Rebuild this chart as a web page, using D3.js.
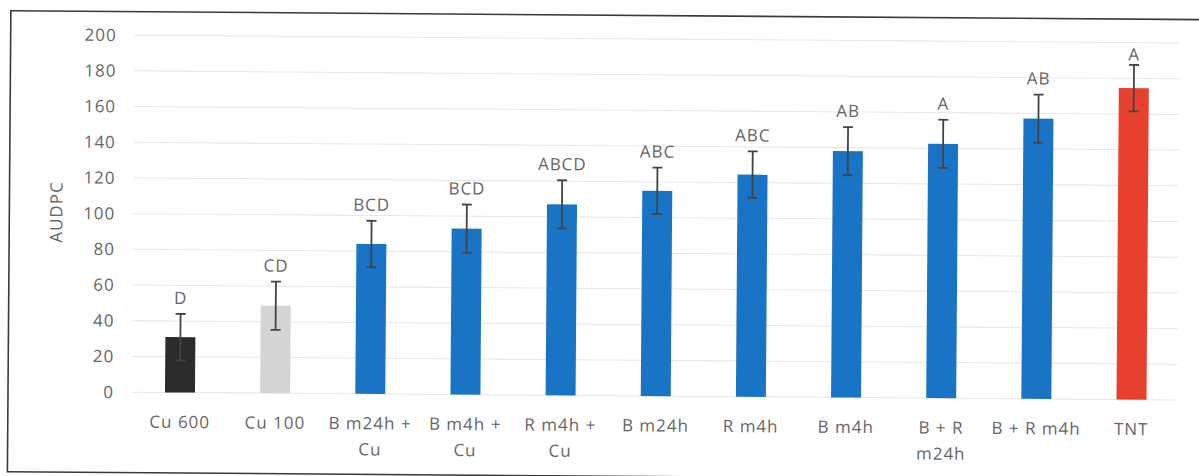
<!DOCTYPE html>
<html>
<head>
<meta charset="utf-8">
<script src="https://cdn.jsdelivr.net/npm/d3@7"></script>
<style>
  html, body { margin: 0; padding: 0; background: #fff; }
  svg { display: block; }
  text { font-family: "Open Sans", "DejaVu Sans", sans-serif; fill: #666; }
</style>
</head>
<body>
<svg id="chart" width="1199" height="476"></svg>
<script>
// Treatments (line breaks follow the wrapped axis labels)
const categories = [
  "Cu 600", "Cu 100", "B m24h +\nCu", "B m4h +\nCu", "R m4h +\nCu",
  "B m24h", "R m4h", "B m4h", "B + R\nm24h", "B + R m4h", "TNT"
];
// Mean AUDPC per treatment
const audpc = [31, 49, 84, 93, 107, 115, 124.5, 138, 142.5, 157, 174.5];
// Standard error of each mean
const stdErr = [13, 13.5, 13, 13.5, 13.5, 13, 13, 13.5, 13.5, 13.5, 13];
// Letters of the mean separation test
const groups = ["D", "CD", "BCD", "BCD", "ABCD", "ABC", "ABC", "AB", "A", "AB", "A"];
// Bar fill per treatment
const barFill = ["#2b2b2b", "#d4d4d4", "#1a74c6", "#1a74c6", "#1a74c6", "#1a74c6",
                 "#1a74c6", "#1a74c6", "#1a74c6", "#1a74c6", "#e8402f"];
// Y axis ticks
const yTicks = [0, 20, 40, 60, 80, 100, 120, 140, 160, 180, 200];

const svg = d3.select("#chart");
svg.append("rect").attr("width", 1199).attr("height", 476).attr("fill", "#fff");

// the printed figure sits slightly askew on the page
const g = svg.append("g").attr("transform", "rotate(0.43, 180, 392.5)");

// outer frame of the figure (its right side runs past the page edge)
g.append("rect")
  .attr("x", 8).attr("y", 12).attr("width", 1260).attr("height", 461)
  .attr("fill", "none").attr("stroke", "#3a3a3a").attr("stroke-width", 1.6);

const x = d3.scaleBand()
  .domain(categories)
  .range([132.4, 1179.1])
  .paddingInner(0.685)
  .paddingOuter(0.3425);

const y = d3.scaleLinear().domain([0, 200]).range([392.5, 35.5]);

// horizontal gridlines
g.append("g").selectAll("line")
  .data(yTicks)
  .join("line")
  .attr("x1", 132).attr("x2", 1177)
  .attr("y1", d => y(d)).attr("y2", d => y(d))
  .attr("stroke", "#e6e6e6").attr("stroke-width", 1);

// y axis labels
const yAxis = g.append("g")
  .attr("transform", "translate(118,0)")
  .call(d3.axisLeft(y).tickValues(yTicks).tickSize(0).tickPadding(4));
yAxis.select(".domain").remove();
yAxis.selectAll("text")
  .attr("font-size", 17).attr("letter-spacing", 1)
  .attr("font-family", "Open Sans").attr("fill", "#666");

g.append("text")
  .attr("transform", "translate(61,213) rotate(-90)")
  .attr("text-anchor", "middle")
  .attr("font-size", 17).attr("letter-spacing", 1)
  .text("AUDPC");

const data = categories.map((c, i) => ({
  cat: c, v: audpc[i], e: stdErr[i], grp: groups[i], fill: barFill[i]
}));

// bars
g.append("g").selectAll("rect")
  .data(data)
  .join("rect")
  .attr("x", d => x(d.cat))
  .attr("width", x.bandwidth())
  .attr("y", d => y(d.v))
  .attr("height", d => y(0) - y(d.v))
  .attr("fill", d => d.fill);

// error bars
const eb = g.append("g").attr("stroke", "#444").attr("stroke-width", 1.8);
const cx = d => x(d.cat) + x.bandwidth() / 2;
eb.selectAll(".stem").data(data).join("line")
  .attr("x1", cx).attr("x2", cx)
  .attr("y1", d => y(d.v + d.e)).attr("y2", d => y(d.v - d.e));
eb.selectAll(".capTop").data(data).join("line")
  .attr("x1", d => cx(d) - 5).attr("x2", d => cx(d) + 5)
  .attr("y1", d => y(d.v + d.e)).attr("y2", d => y(d.v + d.e));
eb.selectAll(".capBot").data(data).join("line")
  .attr("x1", d => cx(d) - 5).attr("x2", d => cx(d) + 5)
  .attr("y1", d => y(d.v - d.e)).attr("y2", d => y(d.v - d.e));

// group letters above error bars
g.append("g").selectAll("text")
  .data(data)
  .join("text")
  .attr("x", cx)
  .attr("y", d => Math.max(y(d.v + d.e) - 10, y(190)))
  .attr("text-anchor", "middle")
  .attr("font-size", 17).attr("letter-spacing", 1)
  .text(d => d.grp);

// category labels, wrapped on two lines where needed
const xl = g.append("g").selectAll("text")
  .data(data)
  .join("text")
  .attr("x", cx)
  .attr("y", 428)
  .attr("text-anchor", "middle")
  .attr("font-size", 17).attr("letter-spacing", 1);
xl.each(function(d) {
  const lines = d.cat.split("\n");
  d3.select(this).selectAll("tspan")
    .data(lines)
    .join("tspan")
    .attr("x", cx(d))
    .attr("dy", (l, i) => i === 0 ? 0 : 26)
    .text(l => l);
});
</script>
</body>
</html>
